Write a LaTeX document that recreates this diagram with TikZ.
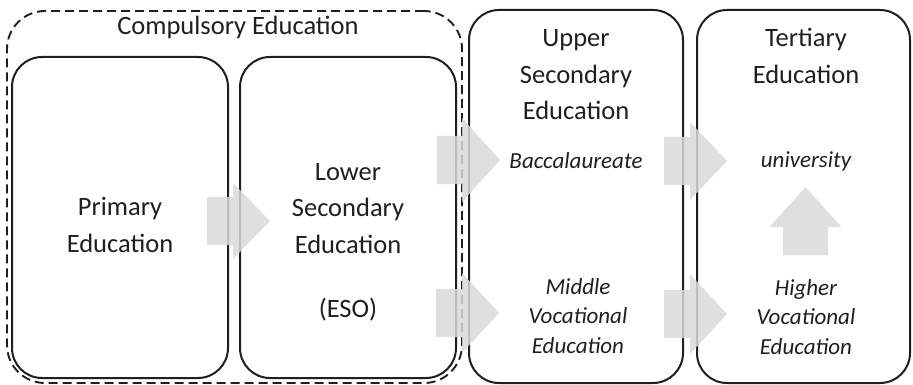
\documentclass[tikz,border=0pt]{standalone}
\usepackage{fontspec}
\setmainfont{Carlito}
\newcommand\harr[6]{\fill[blk] (#1,{#4-#5}) -- (#2,{#4-#5}) -- (#2,{#4-#6}) -- (#3,#4) -- (#2,{#4+#6}) -- (#2,{#4+#5}) -- (#1,{#4+#5}) -- cycle;}
\begin{document}
\begin{tikzpicture}[x=1pt,y=-1pt,
 box/.style={draw=black!88, line width=2pt, rounded corners=30pt, inner sep=0pt},
 outer/.style={draw=black!88, line width=1.9pt, dash pattern=on 9pt off 5pt, rounded corners=38pt, inner sep=0pt},
 lbl/.style={font=\fontsize{26.5}{36.5}\selectfont, align=center, text=black!88},
 sub/.style={font=\fontsize{23}{29.5}\selectfont\itshape, align=center, text=black!88},
 blk/.style={fill=black!15, opacity=0.85, draw=none}]
\useasboundingbox (0,0) rectangle (913,385);
\node[outer, minimum width=455pt, minimum height=372pt] (comp) at (234.5,197) {};
\node[box, minimum width=216pt, minimum height=321pt] (prim) at (120,217.5) {};
\node[box, minimum width=216pt, minimum height=321pt] (lower) at (348,217.5) {};
\node[box, minimum width=214pt, minimum height=373pt] (upper) at (576,196.5) {};
\node[box, minimum width=213pt, minimum height=373pt] (tert) at (803.5,196.5) {};
\node[lbl] (tcomp) at (238,27) {Compulsory Education};
\node[lbl] (tprim) at (120,225) {Primary\\Education};
\node[lbl] (tlow) at (348,208.5) {Lower\\Secondary\\Education};
\node[lbl] (teso) at (348,310) {(ESO)};
\node[lbl] (tup) at (576,75) {Upper\\Secondary\\Education};
\node[sub] (tbac) at (576,161) {Baccalaureate};
\node[sub] (tmid) at (578,316) {Middle\\Vocational\\Education};
\node[lbl] (tter) at (806,56) {Tertiary\\Education};
\node[sub] (tuni) at (806,161) {university};
\node[sub] (thig) at (806,317) {Higher\\Vocational\\Education};
\harr{207}{233}{270}{221}{24}{38}
\harr{437}{462}{500}{160}{24}{42}
\harr{436}{462}{499}{313}{24}{40}
\harr{664}{690}{727}{161}{24}{39}
\harr{664}{690}{727}{314}{24}{40}
\fill[blk] (783,255) -- (783,227) -- (769.5,227) -- (805.5,187) -- (841.5,227) -- (828,227) -- (828,255) -- cycle;
\end{tikzpicture}
\end{document}
